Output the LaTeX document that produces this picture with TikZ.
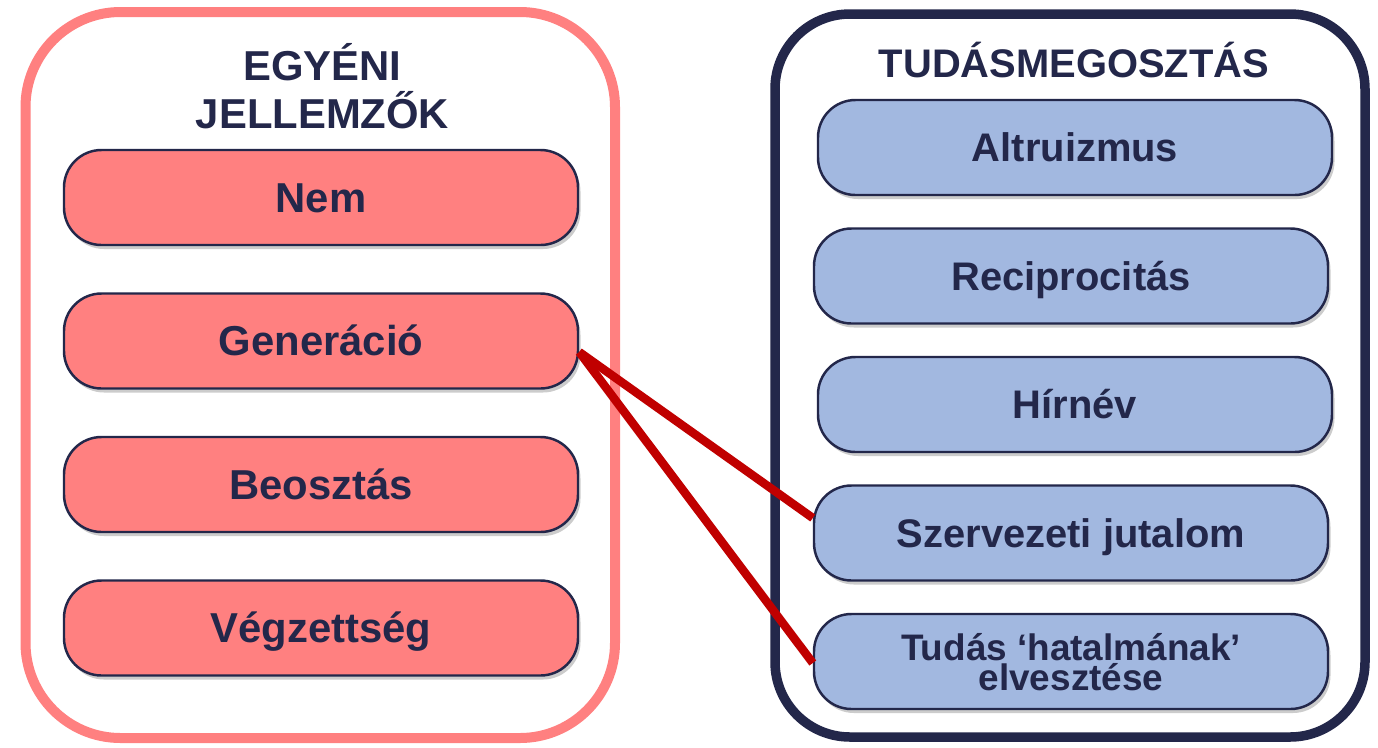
\documentclass[tikz,border=0pt]{standalone}
\usepackage{fontspec}
\setmainfont{Liberation Sans}
\usepackage{xcolor}
\usetikzlibrary{shapes,arrows,calc,positioning,shadows}
\definecolor{navy}{HTML}{23274A}
\definecolor{salmon}{HTML}{FF8080}
\definecolor{paleblue}{HTML}{A2B8E0}
\definecolor{linkred}{HTML}{C00000}

\begin{document}
\begin{tikzpicture}[
      font = \bfseries,
      node distance = 2.87cm
    ]
    \tikzstyle{link line} = [linkred, line width=0.17cm]
    \tikzstyle{frame} = [rectangle, fill=white, line width=0.2cm]
    \tikzstyle{title} = [text=navy, anchor=base, align=center]
    \tikzstyle{item box} = [rectangle, rounded corners=0.75cm, draw=navy, line width=1.4pt,
      text=navy, minimum width=10.28cm, minimum height=1.9cm, text depth=0pt,
      drop shadow={shadow xshift=0.05cm, shadow yshift=-0.08cm, opacity=0.4}]
    \tikzstyle{left box} = [item box, fill=salmon, text height=17pt,
      font=\bfseries\fontsize{23.8}{27}\selectfont]
    \tikzstyle{right box} = [item box, fill=paleblue, text height=16.3pt,
      font=\bfseries\fontsize{22.7}{26}\selectfont]

    \useasboundingbox (0,0) rectangle (27.56,-14.94);

    % frames
    \node[frame, draw=salmon, rounded corners=1.9cm, minimum width=11.79cm, minimum height=14.52cm]
      (lframe) at (6.405,-7.5) {};
    \node[frame, draw=navy, line width=0.19cm, rounded corners=1.5cm, minimum width=11.8cm, minimum height=14.46cm]
      (rframe) at (21.4,-7.51) {};

    % titles
    \node[title, font=\bfseries\fontsize{23.8}{27.2}\selectfont] (ltitle) at (6.45,-2.56) {EGYÉNI\\JELLEMZŐK};
    \node[title, font=\bfseries\fontsize{22.7}{26}\selectfont] (rtitle) at (21.48,-1.54) {TUDÁSMEGOSZTÁS};

    % left column
    \node[left box] (nem) at (6.42,-3.95) {Nem};
    \node[left box] (gen) [below of=nem] {Generáció};
    \node[left box] (beo) [below of=gen] {Beosztás};
    \node[left box] (veg) [below of=beo] {Végzettség};

    % right column
    \node[right box] (alt) at (21.5,-2.95) {Altruizmus};
    \node[right box] (rec) [node distance=2.57cm, below of=alt, xshift=-0.08cm] {Reciprocitás};
    \node[right box] (hir) [node distance=2.57cm, below of=rec, xshift=0.08cm] {Hírnév};
    \node[right box] (szj) [node distance=2.57cm, below of=hir, xshift=-0.08cm] {Szervezeti jutalom};
    \node[right box, align=center, font=\bfseries\fontsize{21}{17}\selectfont, text height=1.14cm]
      (tud) [node distance=2.57cm, below of=szj] {Tudás ‘hatalmának’\\elvesztése};

    \draw[link line] ([yshift=-0.22cm]gen.east) -- ([yshift=0.3cm]szj.west);
    \draw[link line] ([yshift=-0.22cm]gen.east) -- ([yshift=-0.03cm]tud.west);
\end{tikzpicture}
\end{document}
